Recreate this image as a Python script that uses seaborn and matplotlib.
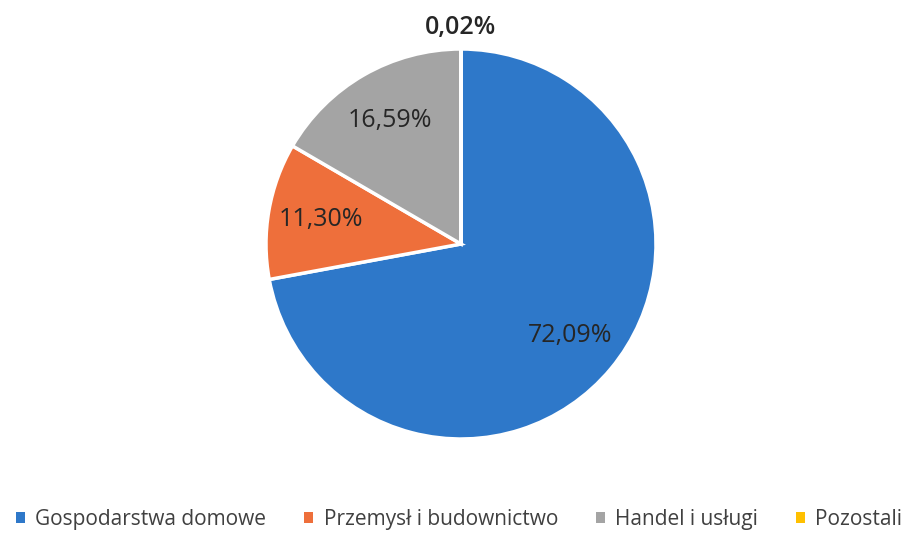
import matplotlib
matplotlib.use("Agg")
import matplotlib.pyplot as plt
import seaborn as sns
from matplotlib.patches import Patch

categories = ["Gospodarstwa domowe", "Przemysł i budownictwo", "Handel i usługi", "Pozostali"]
shares = [72.09, 11.30, 16.59, 0.02]
colors = ["#2E78C9", "#EE6F3B", "#A4A4A4", "#FFC000"]

sns.set_theme(style="white")
plt.rcParams["font.family"] = ["Open Sans", "DejaVu Sans"]

W, H = 918, 535
fig = plt.figure(figsize=(W / 100, H / 100), dpi=100)
# pie centre ~ (461, 244) px, radius ~195 px
side = 460
cx, cy, r = 461, 244, 195
ax = fig.add_axes([(cx - side / 2) / W, (H - cy - side / 2) / H, side / W, side / H])

wedges, texts, autotexts = ax.pie(
    shares, colors=colors, startangle=90, counterclock=False,
    autopct="%.2f", pctdistance=0.73,
    wedgeprops=dict(edgecolor="white", linewidth=2.5),
    textprops=dict(fontsize=18, color="#262626"),
)
for t, v in zip(autotexts, shares):
    t.set_text(f"{v:.2f}%".replace(".", ","))
# tiny slice label sits outside the pie
autotexts[3].set_position((0, 1.11))
autotexts[3].set_va("center")
autotexts[3].set_fontweight("semibold")

lim = side / 2 / r
ax.set_xlim(-lim, lim)
ax.set_ylim(-lim, lim)
ax.set_aspect("equal")
ax.axis("off")

handles = [Patch(facecolor=c, edgecolor="none") for c in colors]
fig.legend(handles, categories, loc="lower center", ncol=4, frameon=False,
           bbox_to_anchor=(0.5, -0.025), fontsize=15, handlelength=0.45, handleheight=0.45,
           handletextpad=0.5, columnspacing=1.8, labelcolor="#404040")

fig.savefig("out.png", dpi=100, facecolor="white")
